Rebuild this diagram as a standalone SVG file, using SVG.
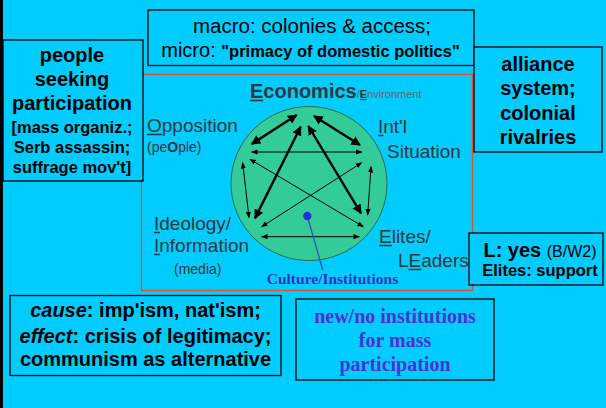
<svg xmlns="http://www.w3.org/2000/svg" width="606" height="408" viewBox="0 0 606 408">
<defs>
<style>
.box{fill:#00CCFF;stroke:#000;stroke-width:1.3}
.b{font-family:"Liberation Sans",Arial,sans-serif;font-weight:bold;fill:#000}
.r{font-family:"Liberation Sans",Arial,sans-serif;fill:#000}
.d{font-family:"Liberation Sans",Arial,sans-serif;fill:#303840}
.thick{stroke:#000;stroke-width:2.4;fill:none;marker-start:url(#ahL);marker-end:url(#ahL)}
.thin{stroke:#000;stroke-width:1;fill:none;marker-start:url(#ahS);marker-end:url(#ahS)}
</style>
<marker id="ahL" viewBox="0 0 10 10" refX="9" refY="5" markerWidth="4" markerHeight="4" orient="auto-start-reverse" markerUnits="strokeWidth"><path d="M0,0 L10,5 L0,10 z" fill="#000"/></marker>
<marker id="ahS" viewBox="0 0 10 10" refX="9" refY="5" markerWidth="6.5" markerHeight="6.5" orient="auto-start-reverse" markerUnits="strokeWidth"><path d="M0,1 L10,5 L0,9 z" fill="#000"/></marker>
</defs>
<rect x="0" y="0" width="606" height="408" fill="#00CCFF"/>
<rect x="0" y="0" width="3" height="408" fill="#000"/>

<g id="frame">
<rect x="141.5" y="74.5" width="331" height="216" fill="none" stroke="#E0502A" stroke-width="1.3"/>
</g>

<g id="circle">
<ellipse cx="309" cy="183.5" rx="78" ry="77" fill="#33CC99" stroke="#2a6a50" stroke-width="1"/>
</g>

<g id="connectors">
<line class="thick" x1="296.7" y1="115" x2="251.7" y2="144"/>
<line class="thick" x1="314" y1="116" x2="360" y2="145"/>
<line class="thick" x1="300.7" y1="126.7" x2="255" y2="218.3"/>
<line class="thick" x1="308.3" y1="126" x2="361" y2="213.3"/>
<line class="thin" x1="251.7" y1="152" x2="361.7" y2="152"/>
<line class="thin" x1="242.7" y1="162.7" x2="249" y2="217.7"/>
<line class="thin" x1="371" y1="166.7" x2="367.7" y2="215"/>
<line class="thin" x1="250" y1="159.3" x2="363.3" y2="226.7"/>
<line class="thin" x1="361.7" y1="162.7" x2="261.7" y2="226.7"/>
<line class="thin" x1="261.7" y1="236.7" x2="359.3" y2="236.7"/>
<line x1="307.3" y1="216" x2="322.7" y2="270" stroke="#3355AA" stroke-width="1.3"/>
</g>

<g id="culture">
<circle cx="307.3" cy="216" r="4.2" fill="#2233CC"/>
<text x="332.5" y="283.5" text-anchor="middle" font-family="'Liberation Serif','Times New Roman',serif" font-weight="bold" font-size="15.5" fill="#3333BB">Culture/Institutions</text>
</g>

<g id="economics">
<text class="d" x="250" y="98" font-size="20" font-weight="bold" fill="#333">Economics<tspan font-size="11" font-weight="normal" fill="#5a6a72">/<tspan font-weight="bold" fill="#333" text-decoration="underline">E</tspan>nvironment</tspan></text>
<line x1="250" y1="100.5" x2="263" y2="100.5" stroke="#333" stroke-width="1.5"/>
</g>

<g id="opposition">
<text class="d" x="147" y="132" font-size="19">Opposition</text>
<line x1="147" y1="134.5" x2="162" y2="134.5" stroke="#303840" stroke-width="1.5"/>
<text class="d" x="147" y="152" font-size="14">(pe<tspan font-weight="bold">O</tspan>ple)</text>
</g>

<g id="intl">
<text class="d" x="378" y="133" font-size="19">Int'l</text>
<line x1="378" y1="135.5" x2="383.5" y2="135.5" stroke="#303840" stroke-width="1.5"/>
<text class="d" x="387" y="158" font-size="19">Situation</text>
</g>

<g id="ideology">
<text class="d" x="154" y="230" font-size="19">Ideology/</text>
<line x1="154" y1="232.5" x2="160" y2="232.5" stroke="#303840" stroke-width="1.5"/>
<text class="d" x="154" y="252" font-size="19">Information</text>
<line x1="154" y1="254.5" x2="160" y2="254.5" stroke="#303840" stroke-width="1.5"/>
<text class="d" x="174" y="274" font-size="14">(media)</text>
</g>

<g id="elites">
<text class="d" x="379" y="243" font-size="19">Elites/</text>
<line x1="379" y1="245.5" x2="392" y2="245.5" stroke="#303840" stroke-width="1.5"/>
<text class="d" x="398" y="267" font-size="19">LEaders</text>
<line x1="408.5" y1="269.5" x2="421.5" y2="269.5" stroke="#303840" stroke-width="1.5"/>
</g>

<g id="macro">
<rect class="box" x="148" y="10" width="326" height="55.5"/>
<text class="r" x="312" y="33" font-size="20.5" text-anchor="middle">macro: colonies &amp; access;</text>
<text class="r" x="310.5" y="57" font-size="20" text-anchor="middle">micro: <tspan font-weight="bold" font-size="16.5">"primacy of domestic politics"</tspan></text>
</g>

<g id="people">
<rect class="box" x="3" y="40" width="140" height="141"/>
<g class="b" text-anchor="middle">
<text x="72" y="62" font-size="20">people</text>
<text x="72" y="86" font-size="20">seeking</text>
<text x="72" y="110" font-size="20">participation</text>
<text x="72" y="133" font-size="16.5">[mass organiz.;</text>
<text x="72" y="153" font-size="16.5">Serb assassin;</text>
<text x="72" y="173" font-size="16.5">suffrage mov't]</text>
</g>
</g>

<g id="alliance">
<rect class="box" x="474" y="47" width="128" height="105"/>
<g class="b" text-anchor="middle" font-size="20">
<text x="538" y="71">alliance</text>
<text x="538" y="95">system;</text>
<text x="538" y="120">colonial</text>
<text x="538" y="144">rivalries</text>
</g>
</g>

<g id="leaders-box">
<rect class="box" x="469" y="233" width="134" height="52"/>
<text class="b" x="540" y="257" font-size="20" text-anchor="middle">L: yes <tspan font-weight="normal" font-size="16">(B/W2)</tspan></text>
<text class="b" x="540" y="276" font-size="16.5" text-anchor="middle">Elites: support</text>
</g>

<g id="cause">
<rect class="box" x="10" y="295.5" width="271" height="80"/>
<g class="b" text-anchor="middle" font-size="20">
<text x="145.5" y="317"><tspan font-style="italic">cause</tspan>: imp'ism, nat'ism;</text>
<text x="145.5" y="343"><tspan font-style="italic">effect</tspan>: crisis of legitimacy;</text>
<text x="145.5" y="366">communism as alternative</text>
</g>
</g>

<g id="institutions">
<rect class="box" x="296" y="299" width="198" height="81"/>
<g font-family="'Liberation Serif','Times New Roman',serif" font-weight="bold" font-size="20" fill="#4A33D0" text-anchor="middle">
<text x="395" y="323">new/no institutions</text>
<text x="395" y="347">for mass</text>
<text x="395" y="371">participation</text>
</g>
</g>
</svg>
